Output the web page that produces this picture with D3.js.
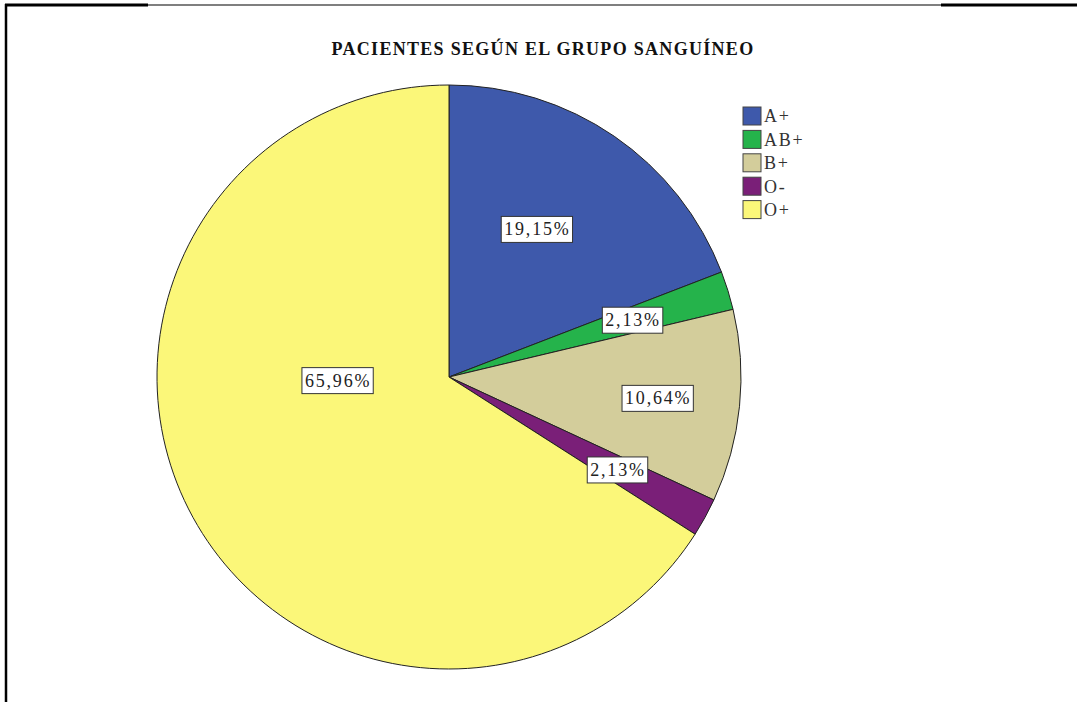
<!DOCTYPE html>
<html>
   <head>
      <meta charset="utf-8">
      <script src="https://d3js.org/d3.v7.min.js"></script>
      <style>
         body {
            margin: 0;
            background: white;
         }

         svg {
            display: block;
         }

         svg text {
            font-family: 'Liberation Serif', 'Times New Roman', Times, 'DejaVu Serif', serif;
         }

         .slice {
            stroke: #222;
            stroke-width: 1;
         }

         .label-box {
            fill: white;
            stroke: #333;
            stroke-width: 1;
         }

         .label-text {
            font-size: 18px;
            letter-spacing: 1.8px;
            fill: #222;
         }

         .legend-text {
            font-size: 18px;
            letter-spacing: 1.8px;
            fill: #333;
         }
      </style>
   </head>
   <body>
      <svg id="chart" width="1077" height="702"></svg>

      <script>
         // blood groups and their share of the patients (%)
         let groups = ['A+', 'AB+', 'B+', 'O-', 'O+'];
         let percents = [19.15, 2.13, 10.64, 2.13, 65.96];
         let colors = ['#3e59ab', '#25b34b', '#d3cd9b', '#7a1f78', '#fbf779'];

         // where the value boxes sit: fraction of the radius, and a turn in degrees
         let labelRadius = [0.59, 0.66, 0.72, 0.66, 0.38];
         let labelTurn = [-3.6, 0, 0, 0, 27];

         let svg = d3.select('#chart');

         // frame lines like the original page
         svg.append('line').attr('x1', 6).attr('y1', 4).attr('x2', 6).attr('y2', 702)
            .attr('stroke', 'black').attr('stroke-width', 2.5);
         svg.append('line').attr('x1', 5).attr('y1', 5).attr('x2', 148).attr('y2', 5)
            .attr('stroke', 'black').attr('stroke-width', 3);
         svg.append('line').attr('x1', 148).attr('y1', 5).attr('x2', 941).attr('y2', 5)
            .attr('stroke', 'black').attr('stroke-width', 1.2);
         svg.append('line').attr('x1', 941).attr('y1', 5).attr('x2', 1077).attr('y2', 5)
            .attr('stroke', 'black').attr('stroke-width', 3);

         svg.append('text')
            .text('PACIENTES SEGÚN EL GRUPO SANGUÍNEO')
            .attr('x', 543)
            .attr('y', 55)
            .attr('text-anchor', 'middle')
            .attr('font-size', 18)
            .attr('letter-spacing', 1.3)
            .attr('font-weight', 'bold')
            .attr('fill', '#111');

         let cx = 449, cy = 377, radius = 292;

         let data = groups.map((g, i) => ({ name: g, value: percents[i], color: colors[i], i: i }));

         let pie = d3.pie().value((d) => d.value).sort(null);
         let arc = d3.arc().innerRadius(0).outerRadius(radius);

         let g = svg.append('g').attr('transform', `translate(${cx}, ${cy})`);

         let slices = pie(data);

         g.selectAll('path.slice')
            .data(slices)
            .enter()
            .append('path')
            .attr('class', 'slice')
            .attr('d', arc)
            .attr('fill', (d) => d.data.color);

         // value labels in white boxes
         let labels = g.selectAll('g.label')
            .data(slices)
            .enter()
            .append('g')
            .attr('class', 'label')
            .attr('transform', (d) => {
               let a = (d.startAngle + d.endAngle) / 2 + labelTurn[d.data.i] * Math.PI / 180;
               let r = radius * labelRadius[d.data.i];
               return `translate(${r * Math.sin(a)}, ${-r * Math.cos(a)})`;
            });

         labels.append('rect').attr('class', 'label-box');

         labels.append('text')
            .attr('class', 'label-text')
            .attr('text-anchor', 'middle')
            .attr('dy', '0.35em')
            .text((d) => d3.format('.2f')(d.data.value).replace('.', ',') + '%');

         labels.each(function() {
            let box = d3.select(this).select('text').node().getBBox();
            d3.select(this).select('rect')
               .attr('x', box.x - 3)
               .attr('y', box.y - 3)
               .attr('width', box.width + 5)
               .attr('height', box.height + 6);
         });

         // legend
         let legendY = d3.scaleBand().domain(groups).range([107, 224]);

         let legend = svg.selectAll('g.legend')
            .data(data)
            .enter()
            .append('g')
            .attr('class', 'legend')
            .attr('transform', (d) => `translate(743, ${legendY(d.name)})`);

         legend.append('rect')
            .attr('width', 18)
            .attr('height', 18)
            .attr('fill', (d) => d.color)
            .attr('stroke', '#444')
            .attr('stroke-width', 1);

         legend.append('text')
            .attr('class', 'legend-text')
            .attr('x', 21)
            .attr('y', 9)
            .attr('dy', '0.35em')
            .text((d) => d.name);
      </script>
   </body>
</html>
